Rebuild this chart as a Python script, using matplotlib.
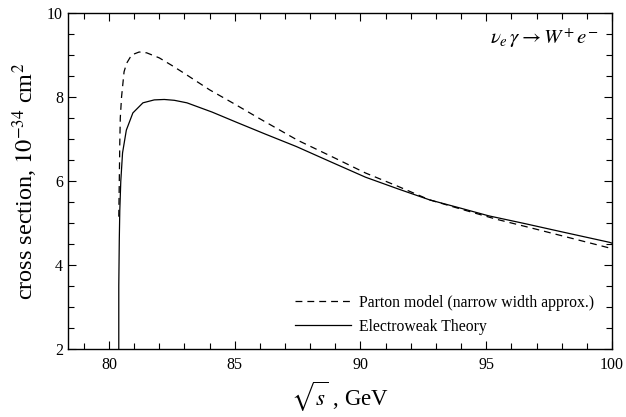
import numpy as np
import matplotlib
matplotlib.use('Agg')
import matplotlib.pyplot as plt
from matplotlib.ticker import MultipleLocator

# 값은 그림에서 읽은 것
parton_x = [80.39, 80.41, 80.43, 80.45, 80.5, 80.6, 80.7, 80.9, 81.2, 81.5, 82.0, 82.5, 83.0,
            84.0, 85.0, 86.0, 87.5, 89.0, 90.2, 91.5, 92.75, 94.0, 95.4, 97.0, 98.5, 100.0]
parton_y = [5.15, 6.0, 6.9, 7.5, 8.0, 8.6, 8.8, 9.0, 9.07, 9.05, 8.93, 8.75, 8.56,
            8.17, 7.83, 7.48, 6.97, 6.54, 6.19, 5.87, 5.55, 5.33, 5.09, 4.85, 4.62, 4.39]

ew_x = [80.39, 80.39, 80.41, 80.43, 80.47, 80.54, 80.69, 80.95, 81.35, 81.8, 82.2, 82.6, 83.1,
        84.1, 85.06, 86.2, 87.45, 88.8, 90.2, 91.5, 92.75, 94.0, 95.1, 96.5, 98.0, 99.9, 100.0]
ew_y = [2.0, 3.5, 4.6, 5.3, 6.0, 6.67, 7.21, 7.62, 7.86, 7.93, 7.94, 7.92, 7.86,
        7.64, 7.40, 7.12, 6.82, 6.46, 6.09, 5.81, 5.55, 5.35, 5.17, 4.99, 4.79, 4.54, 4.52]

labels = ['Parton model (narrow width approx.)', 'Electroweak Theory']

plt.rcParams['font.family'] = ['Liberation Serif', 'DejaVu Serif']
plt.rcParams['mathtext.fontset'] = 'stix'

fig = plt.figure(figsize=(6.26, 4.17), dpi=100)
ax = fig.add_axes([0.1086, 0.163, 0.869, 0.806])

ax.plot(parton_x, parton_y, color='black', lw=0.9, ls=(0, (5.5, 4)), label=labels[0])
ax.plot(ew_x, ew_y, color='black', lw=0.9, label=labels[1])

ax.set_xlim(78.37, 100)
ax.set_ylim(2, 10)
ax.xaxis.set_major_locator(MultipleLocator(5))
ax.xaxis.set_minor_locator(MultipleLocator(1))
ax.yaxis.set_major_locator(MultipleLocator(2))
ax.yaxis.set_minor_locator(MultipleLocator(0.5))
ax.tick_params(which='both', direction='in', top=True, right=True, labelsize=11.5, width=0.8)
ax.tick_params(which='major', length=6)
ax.tick_params(which='minor', length=4)
ax.tick_params(axis='x', pad=6)
for s in ax.spines.values():
    s.set_linewidth(1.0)

ax.set_xlabel(r'$\sqrt{s}$ , GeV', fontsize=16.5)
ax.xaxis.set_label_coords(0.5, -0.092)
ax.set_ylabel(r'cross section, $10^{-34}$ cm$^{2}$', fontsize=17.5, labelpad=5)

ax.text(0.975, 0.925, r'$\nu_e\,\gamma \rightarrow W^{+}\,e^{-}$', transform=ax.transAxes,
        ha='right', va='center', fontsize=15)

ax.legend(loc='lower right', frameon=False, fontsize=11.3, handlelength=3.6,
          handletextpad=0.5, bbox_to_anchor=(0.985, 0.015), borderaxespad=0.2,
          labelspacing=0.5)

fig.savefig('out.png', dpi=100)
